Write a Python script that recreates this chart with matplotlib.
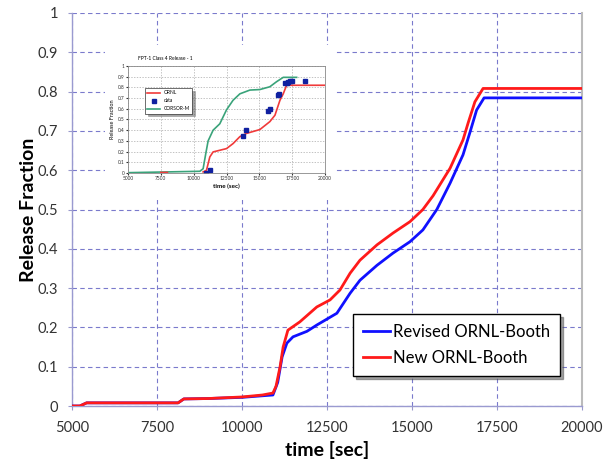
import matplotlib
matplotlib.use("Agg")
import matplotlib.pyplot as plt
import numpy as np

plt.rcParams['font.family'] = ['Lato', 'DejaVu Sans']

# Main chart data
red_t = [5000, 5230, 5430, 8120, 8290, 9000, 10000, 10600, 10910, 11000, 11120, 11210, 11350, 11700,
         12200, 12590, 12880, 13180, 13470, 13970, 14440, 14940, 15320, 15620, 16120, 16500, 16650,
         16850, 17090, 20000]
red_v = [0.0, 0.0, 0.008, 0.008, 0.018, 0.019, 0.023, 0.028, 0.033, 0.05, 0.10, 0.15, 0.193, 0.214,
         0.252, 0.27, 0.295, 0.338, 0.371, 0.41, 0.44, 0.469, 0.50, 0.535, 0.605, 0.677, 0.72,
         0.774, 0.808, 0.808]
blue_t = [5000, 5230, 5430, 8120, 8290, 9000, 10000, 10600, 10910, 11050, 11180, 11320, 11500, 11910,
          12200, 12790, 13180, 13470, 13970, 14440, 14940, 15320, 15730, 16120, 16500, 16700,
          16900, 17120, 20000]
blue_v = [0.0, 0.0, 0.008, 0.008, 0.018, 0.019, 0.022, 0.026, 0.028, 0.06, 0.125, 0.16, 0.176, 0.19,
          0.206, 0.236, 0.287, 0.32, 0.358, 0.389, 0.418, 0.448, 0.50, 0.567, 0.639, 0.695,
          0.753, 0.784, 0.784]

# Inset data
ins_ornl_t = [7500, 8000, 8000.1, 10720, 10975, 11230, 11480, 12500, 13000, 13520, 14020, 15040,
              15800, 16190, 16570, 16820, 17075, 20000]
ins_ornl_v = [0.005, 0.005, np.nan, 0.01, 0.025, 0.15, 0.197, 0.228, 0.275, 0.34, 0.37, 0.406,
              0.48, 0.54, 0.68, 0.74, 0.82, 0.82]
ins_cor_t = [5000, 10470, 10720, 10920, 11100, 11480, 11990, 12500, 13000, 13520, 14280, 15040,
             15800, 16310, 16820, 17840]
ins_cor_v = [0.003, 0.016, 0.04, 0.18, 0.30, 0.40, 0.46, 0.59, 0.68, 0.74, 0.775, 0.78,
             0.806, 0.853, 0.894, 0.894]
ins_data_t = [10920, 11280, 13770, 14020, 15680, 15800, 16440, 16490, 16950, 17075, 17200, 17330,
              17460, 18450]
ins_data_v = [0.0, 0.025, 0.344, 0.40, 0.58, 0.594, 0.73, 0.74, 0.84, 0.84, 0.853, 0.86, 0.86, 0.86]

xticks = [5000, 7500, 10000, 12500, 15000, 17500, 20000]
yticks = [0, 0.1, 0.2, 0.3, 0.4, 0.5, 0.6, 0.7, 0.8, 0.9, 1]
ytick_labels = ['0', '0.1', '0.2', '0.3', '0.4', '0.5', '0.6', '0.7', '0.8', '0.9', '1']

W, H = 606, 462
fig = plt.figure(figsize=(W / 100, H / 100), dpi=100)

def rect(l, t, r, b):
    return [l / W, 1 - b / H, (r - l) / W, (b - t) / H]

ax = fig.add_axes(rect(72, 13, 582, 406))
ax.plot(blue_t, blue_v, color='#1010ff', lw=2.0, label='Revised ORNL-Booth', zorder=3)
ax.plot(red_t, red_v, color='#ff1a1a', lw=2.0, label='New ORNL-Booth', zorder=4)
ax.set_xlim(5000, 20000)
ax.set_ylim(0, 1)
ax.set_xticks(xticks)
ax.set_xticklabels([str(t) for t in xticks])
ax.set_yticks(yticks)
ax.set_yticklabels(ytick_labels)
ax.tick_params(axis='both', labelsize=10.5, length=3, color='#9999cc', colors='#333333')
ax.tick_params(axis='x', pad=8)
ax.tick_params(axis='y', pad=7)
ax.grid(True, color='#7a7acc', linestyle=(0, (4, 3)), linewidth=0.8)
for s in ['left', 'bottom']:
    ax.spines[s].set_color('#9a9ad0')
    ax.spines[s].set_linewidth(1.0)
ax.spines['right'].set_color('#bbbbbb')
ax.spines['right'].set_linewidth(1.5)
ax.spines['top'].set_visible(False)
ax.set_xlabel('time [sec]', fontsize=14, fontweight='bold', labelpad=4)
ax.set_ylabel('Release Fraction', fontsize=14, fontweight='bold', labelpad=0)

leg = ax.legend(loc='lower right', bbox_to_anchor=((560 - 72) / 510, (406 - 376) / 393),
                fontsize=12, frameon=True, fancybox=False, shadow=True, handlelength=1.6,
                handletextpad=0.2, borderpad=0.6, labelspacing=0.6, borderaxespad=0)
leg.get_frame().set_edgecolor('black')
leg.get_frame().set_linewidth(1.0)

# Inset background
bg = fig.add_axes(rect(105, 45, 334, 200))
bg.set_facecolor('white')
bg.set_xticks([])
bg.set_yticks([])
for s in bg.spines.values():
    s.set_visible(False)
bg.set_zorder(5)

ins = fig.add_axes(rect(128, 66, 325, 173))
ins.set_zorder(6)
ins.plot(ins_cor_t, ins_cor_v, color='#3aa37a', lw=1.2, label='CORSOR-M')
ins.plot(ins_ornl_t, ins_ornl_v, color='#f03a3a', lw=1.2, label='ORNL')
ins.plot(ins_data_t, ins_data_v, linestyle='none', marker='s', markersize=2.6, color='#1020a0',
         label='data')
ins.set_xlim(5000, 20000)
ins.set_ylim(0, 1)
ins.set_xticks(xticks)
ins.set_xticklabels([str(t) for t in xticks])
ins.set_yticks(yticks)
ins.set_yticklabels(ytick_labels)
ins.tick_params(labelsize=3.5, length=1.5, pad=1, colors='#333333')
ins.grid(True, color='#aaaaaa', linestyle=(0, (2, 2)), linewidth=0.5)
for s in ins.spines.values():
    s.set_color('#888888')
    s.set_linewidth(0.6)
ins.set_xlabel('time (sec)', fontsize=4.5, fontweight='bold', labelpad=1.5)
ins.set_ylabel('Release Fraction', fontsize=4, labelpad=2)
ins.set_title('FPT-1 Class 4 Release - 1', fontsize=3.5, loc='left', x=0.05, pad=4)
h, l = ins.get_legend_handles_labels()
order = [1, 2, 0]
il = ins.legend([h[i] for i in order], [l[i] for i in order], loc='upper left',
                bbox_to_anchor=((145 - 128) / 197, (66 - 88) / 107 + 1), fontsize=3.5,
                frameon=True, fancybox=False, shadow=True, handlelength=2.5, borderpad=0.5,
                labelspacing=0.6, borderaxespad=0)
il.get_frame().set_edgecolor('black')
il.get_frame().set_linewidth(0.4)

fig.savefig('out.png', dpi=100)
